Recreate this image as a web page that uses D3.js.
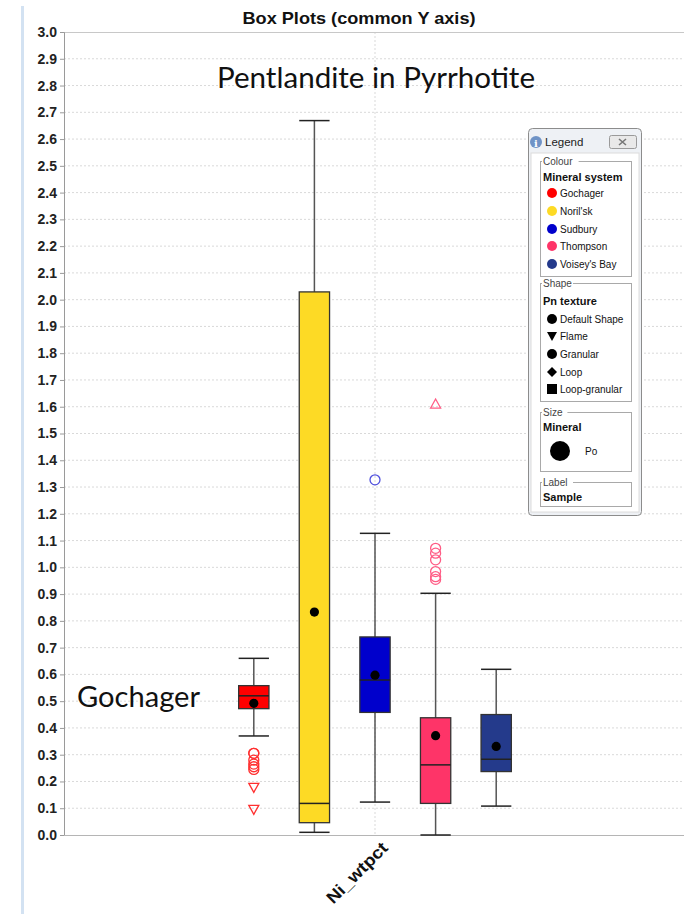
<!DOCTYPE html>
<html>
<head>
<meta charset="utf-8">
<script src="https://cdn.jsdelivr.net/npm/d3@7"></script>
<style>
  html, body { margin: 0; padding: 0; background: #fff; }
  svg { display: block; }
  text { font-family: "Liberation Sans", Arial, sans-serif; }
</style>
</head>
<body>
<script>
// ---- data ----
const category = ["Ni_wtpct"];
const systems = ["Gochager", "Noril'sk", "Sudbury", "Thompson", "Voisey's Bay"];
const colours = ["#ff0000", "#fdda25", "#0000cc", "#fe3468", "#243a8b"];
const outlierColours = ["#ff3030", "#fdda25", "#5050dd", "#ff5c85", "#243a8b"];
const whiskerLow = [0.37, 0.01, 0.123, 0.0, 0.108];
const q1 = [0.472, 0.046, 0.458, 0.118, 0.237];
const median = [0.52, 0.118, 0.579, 0.262, 0.283];
const q3 = [0.558, 2.029, 0.74, 0.438, 0.45];
const whiskerHigh = [0.66, 2.669, 1.127, 0.903, 0.619];
const mean = [0.492, 0.833, 0.597, 0.371, 0.331];
// outliers: system index, value, marker
const outlierSystem = [0, 0, 0, 0, 0, 0, 0, 0, 2, 3, 3, 3, 3, 3, 3, 3];
const outlierValue = [0.305, 0.28, 0.265, 0.255, 0.245, 0.178, 0.096, 0.305, 1.327, 1.071, 1.053, 1.028, 0.984, 0.965, 0.955, 1.61];
const outlierMarker = ["circle", "circle", "circle", "circle", "circle", "down", "down", "circle", "circle", "circle", "circle", "circle", "circle", "circle", "circle", "up"];
const yTicks = d3.range(0, 31).map(i => i / 10);
const legendSystems = systems;
const legendShapes = ["Default Shape", "Flame", "Granular", "Loop", "Loop-granular"];

const W = 684, H = 914;
const plot = { left: 64, right: 686, top: 32, bottom: 835 };

const svg = d3.select("body").append("svg").attr("width", W).attr("height", H);

// left window edge strip
svg.append("rect").attr("x", 21).attr("y", 6).attr("width", 3).attr("height", H - 6).attr("fill", "#d3e2f2");

const y = d3.scaleLinear().domain([0, 3]).range([plot.bottom, plot.top]);
const x0 = d3.scaleBand().domain(category).range([plot.left, plot.right]);
const catCentre = x0(category[0]) + x0.bandwidth() / 2;
const x1 = d3.scaleBand().domain(systems)
  .range([catCentre - 151.5, catCentre + 151.5])
  .paddingInner(0.5).paddingOuter(0.25);

// grid
const grid = svg.append("g");
grid.selectAll("line.h").data(yTicks.filter(t => t > 0 && t < 3)).join("line")
  .attr("x1", plot.left).attr("x2", plot.right)
  .attr("y1", d => y(d)).attr("y2", d => y(d))
  .attr("stroke", "#d9d9d9").attr("stroke-dasharray", "2,2").attr("stroke-width", 1);
grid.append("line")
  .attr("x1", catCentre).attr("x2", catCentre).attr("y1", plot.top).attr("y2", plot.bottom)
  .attr("stroke", "#d9d9d9").attr("stroke-dasharray", "2,2");
// top border
svg.append("line").attr("x1", plot.left).attr("x2", plot.right)
  .attr("y1", plot.top + 0.5).attr("y2", plot.top + 0.5).attr("stroke", "#c8c8c8");

// y axis
const yAxis = svg.append("g").attr("transform", `translate(${plot.left},0)`)
  .call(d3.axisLeft(y).tickValues(yTicks).tickFormat(d3.format(".1f")).tickSize(4).tickPadding(3));
yAxis.select(".domain").attr("stroke", "#9a9a9a");
yAxis.selectAll(".tick line").attr("stroke", "#9a9a9a");
yAxis.selectAll(".tick text").attr("font-size", 14).attr("font-weight", "bold")
  .attr("fill", "#222").style("font-family", "'Liberation Sans', Arial, sans-serif");

// x axis
const xAxis = svg.append("g").attr("transform", `translate(0,${plot.bottom})`)
  .call(d3.axisBottom(x0).tickSize(0).tickPadding(0));
xAxis.select(".domain").attr("stroke", "#b5b5b5");
xAxis.selectAll(".tick text")
  .attr("font-size", 17).attr("font-weight", "bold").attr("fill", "#111")
  .attr("text-anchor", "end").attr("dy", 0)
  .attr("textLength", 79).attr("lengthAdjust", "spacingAndGlyphs")
  .attr("transform", "translate(14,14) rotate(-45)")
  .style("font-family", "'Liberation Sans', Arial, sans-serif");

// boxes
const bw = x1.bandwidth();
const boxes = svg.append("g").selectAll("g").data(systems).join("g")
  .attr("transform", d => `translate(${x1(d) + bw / 2},0)`);
boxes.append("line")
  .attr("x1", 0).attr("x2", 0)
  .attr("y1", (d, i) => y(whiskerLow[i])).attr("y2", (d, i) => y(whiskerHigh[i]))
  .attr("stroke", "#555").attr("stroke-width", 1.5);
boxes.append("line").attr("x1", -bw / 2).attr("x2", bw / 2)
  .attr("y1", (d, i) => y(whiskerHigh[i])).attr("y2", (d, i) => y(whiskerHigh[i]))
  .attr("stroke", "#222").attr("stroke-width", 1.5);
boxes.append("line").attr("x1", -bw / 2).attr("x2", bw / 2)
  .attr("y1", (d, i) => y(whiskerLow[i])).attr("y2", (d, i) => y(whiskerLow[i]))
  .attr("stroke", "#222").attr("stroke-width", 1.5);
boxes.append("rect")
  .attr("x", -bw / 2).attr("width", bw)
  .attr("y", (d, i) => y(q3[i])).attr("height", (d, i) => y(q1[i]) - y(q3[i]))
  .attr("fill", (d, i) => colours[i]).attr("stroke", "#333").attr("stroke-width", 1.3);
boxes.append("line").attr("x1", -bw / 2).attr("x2", bw / 2)
  .attr("y1", (d, i) => y(median[i])).attr("y2", (d, i) => y(median[i]))
  .attr("stroke", "#222").attr("stroke-width", 1.5);
boxes.append("circle").attr("cx", 0).attr("cy", (d, i) => y(mean[i])).attr("r", 4.6).attr("fill", "#000");

// outliers
const out = svg.append("g").selectAll("g").data(outlierValue).join("g")
  .attr("transform", (v, i) => `translate(${x1(systems[outlierSystem[i]]) + bw / 2},${y(v)})`);
out.each(function (v, i) {
  const g = d3.select(this);
  const c = outlierColours[outlierSystem[i]];
  const m = outlierMarker[i];
  if (m === "circle") {
    g.append("circle").attr("r", 5).attr("fill", "none").attr("stroke", c).attr("stroke-width", 1.3);
  } else if (m === "down") {
    g.append("path").attr("d", "M-5,-4L5,-4L0,5Z").attr("fill", "none").attr("stroke", c).attr("stroke-width", 1.3);
  } else {
    g.append("path").attr("d", "M-5,4L5,4L0,-5Z").attr("fill", "none").attr("stroke", c).attr("stroke-width", 1.3);
  }
});

// titles and annotations
svg.append("text").attr("x", 359).attr("y", 24).attr("text-anchor", "middle")
  .attr("font-size", 17).attr("font-weight", "bold").attr("fill", "#111")
  .attr("textLength", 233).attr("lengthAdjust", "spacingAndGlyphs")
  .text("Box Plots (common Y axis)");
svg.append("text").attr("x", 217).attr("y", 88)
  .attr("font-size", 28).attr("fill", "#111").style("font-family", "Lato, 'Open Sans', sans-serif")
  .attr("textLength", 318).attr("lengthAdjust", "spacingAndGlyphs")
  .text("Pentlandite in Pyrrhotite");
svg.append("text").attr("x", 77).attr("y", 707)
  .attr("font-size", 28).attr("fill", "#111").style("font-family", "Lato, 'Open Sans', sans-serif")
  .attr("textLength", 123).attr("lengthAdjust", "spacingAndGlyphs")
  .text("Gochager");

// ---- legend window ----
const L = svg.append("g").attr("transform", "translate(528,128)");
L.append("rect").attr("x", 0.5).attr("y", 0.5).attr("width", 113).attr("height", 387).attr("rx", 4)
  .attr("fill", "#eef1f5").attr("stroke", "#8c8c8c");
L.append("rect").attr("x", 3).attr("y", 25).attr("width", 108).attr("height", 359).attr("fill", "#fff").attr("stroke", "#dcdcdc");
L.append("circle").attr("cx", 8).attr("cy", 14).attr("r", 6).attr("fill", "#6f93c6");
L.append("text").attr("x", 8).attr("y", 18.5).attr("text-anchor", "middle").attr("font-size", 10)
  .attr("font-weight", "bold").attr("fill", "#fff").style("font-family", "'DejaVu Serif', serif").text("i");
L.append("text").attr("x", 17).attr("y", 18).attr("font-size", 11.5).attr("fill", "#222").text("Legend");
L.append("rect").attr("x", 81.5).attr("y", 7.5).attr("width", 27).attr("height", 13).attr("rx", 2)
  .attr("fill", "#e9e9e9").attr("stroke", "#9a9a9a");
L.append("path").attr("d", "M91,11L98,17M98,11L91,17").attr("stroke", "#777").attr("stroke-width", 1.6);

function fieldset(yTop, h, label) {
  L.append("rect").attr("x", 12.5).attr("y", yTop + 0.5).attr("width", 91).attr("height", h).attr("fill", "none").attr("stroke", "#a9a9a9");
  L.append("rect").attr("x", 14).attr("y", yTop - 5).attr("width", label.length * 5.6 + 3).attr("height", 10).attr("fill", "#fff");
  L.append("text").attr("x", 15).attr("y", yTop + 3.5).attr("font-size", 10).attr("fill", "#444").text(label);
}
fieldset(33, 115, "Colour");
fieldset(155, 118, "Shape");
fieldset(284, 59, "Size");
fieldset(354, 24, "Label");

function heading(yc, label) {
  L.append("text").attr("x", 15).attr("y", yc + 4).attr("font-size", 11).attr("font-weight", "bold").attr("fill", "#111").text(label);
}
heading(49, "Mineral system");
heading(173, "Pn texture");
heading(299, "Mineral");
heading(369, "Sample");

const colourY = [65, 83, 101, 118, 136];
legendSystems.forEach((s, i) => {
  L.append("circle").attr("cx", 24).attr("cy", colourY[i]).attr("r", 5).attr("fill", colours[i]);
  L.append("text").attr("x", 32).attr("y", colourY[i] + 3.5).attr("font-size", 10).attr("fill", "#111").text(s);
});
const shapeY = [191, 208, 226, 244, 261];
const shapePaths = [
  "M0,-5A5,5 0 1 1 0,5A5,5 0 1 1 0,-5Z",
  "M-5,-4L5,-4L0,5Z",
  "M0,-5A5,5 0 1 1 0,5A5,5 0 1 1 0,-5Z",
  "M0,-5L5,0L0,5L-5,0Z",
  "M-5,-5L5,-5L5,5L-5,5Z"
];
legendShapes.forEach((s, i) => {
  L.append("path").attr("transform", `translate(24,${shapeY[i]})`).attr("d", shapePaths[i]).attr("fill", "#000");
  L.append("text").attr("x", 32).attr("y", shapeY[i] + 3.5).attr("font-size", 10).attr("fill", "#111").text(s);
});
L.append("circle").attr("cx", 32).attr("cy", 323).attr("r", 10).attr("fill", "#000");
L.append("text").attr("x", 57).attr("y", 327).attr("font-size", 10).attr("fill", "#111").text("Po");
</script>
</body>
</html>
